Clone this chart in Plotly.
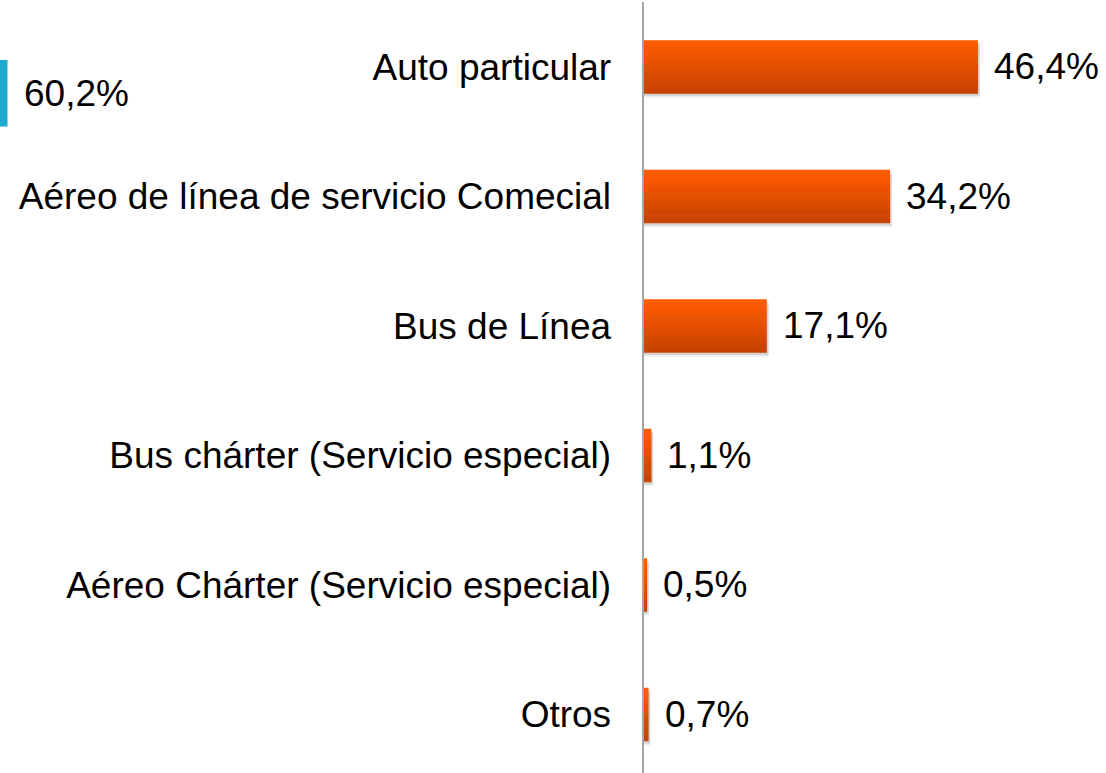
import plotly.graph_objects as go

categories = [
    "Auto particular",
    "Aéreo de línea de servicio Comecial",
    "Bus de Línea",
    "Bus chárter (Servicio especial)",
    "Aéreo Chárter (Servicio especial)",
    "Otros",
]
values = [46.4, 34.2, 17.1, 1.1, 0.5, 0.7]

# partially visible series from a neighbouring panel (cut at left edge)
side_categories = ["Auto particular"]
side_values = [60.2]


def fmt(v):
    return f"{v:.1f}".replace(".", ",") + "%"


W, H = 1106, 773
MT = 2
PLOT_H = H - MT
X0 = 643.5  # pixel of zero line
PXU = 7.21  # px per percent
CAT_PX = 129.5
BAR_W = 53 / CAT_PX

FONT = "Liberation Sans, Arial, sans-serif"
FS = 37

fig = go.Figure()

# shadow layers
for dy, alpha in [(0.035, 0.07), (0.022, 0.10)]:
    fig.add_trace(go.Bar(
        y=categories, x=[v + 0.25 for v in values], orientation="h",
        width=BAR_W, offset=-BAR_W / 2 + dy,
        marker=dict(color=f"rgba(0,0,0,{alpha})", line=dict(width=0)),
        hoverinfo="skip", showlegend=False, xaxis="x", yaxis="y",
    ))

# gradient bands
top = (255, 92, 0)
bot = (200, 66, 0)
N = 14
for i in range(N):
    t = i / (N - 1)
    c = tuple(round(top[k] + (bot[k] - top[k]) * t) for k in range(3))
    fig.add_trace(go.Bar(
        y=categories, x=values, orientation="h",
        width=BAR_W / N * 1.15, offset=-BAR_W / 2 + i * BAR_W / N,
        marker=dict(color=f"rgb{c}", line=dict(width=0)),
        hoverinfo="skip", showlegend=False, xaxis="x", yaxis="y",
    ))

# side (cut-off) series
fig.add_trace(go.Bar(
    y=side_categories, x=side_values, orientation="h", width=1,
    marker=dict(color="#20A9CE", line=dict(width=0)),
    showlegend=False, xaxis="x2", yaxis="y2",
))

annotations = []
for c, v in zip(categories, values):
    annotations.append(dict(
        x=v, y=c, xref="x", yref="y", text=fmt(v), showarrow=False,
        xanchor="left", yanchor="middle", xshift=14,
        font=dict(family=FONT, size=FS, color="#000000"),
    ))
for c, v in zip(side_categories, side_values):
    annotations.append(dict(
        x=v, y=c, xref="x2", yref="y2", text=fmt(v), showarrow=False,
        xanchor="left", yanchor="middle", xshift=14,
        font=dict(family=FONT, size=FS, color="#000000"),
    ))

y_top = -0.5
y_bot = y_top + PLOT_H / CAT_PX

side_top_px, side_bot_px = 60, 126.7

fig.update_layout(
    width=W, height=H,
    margin=dict(l=0, r=0, t=MT, b=0),
    paper_bgcolor="white", plot_bgcolor="white",
    barmode="overlay",
    showlegend=False,
    annotations=annotations,
    xaxis=dict(
        domain=[X0 / W, 1],
        range=[0, (W - X0) / PXU],
        visible=False, fixedrange=True,
    ),
    yaxis=dict(
        domain=[0, 1],
        range=[y_bot, y_top],
        type="category",
        showline=True, linecolor="#A6A6A6", linewidth=2,
        showgrid=False, zeroline=False, ticks="",
        ticklabelstandoff=23,
        tickfont=dict(family=FONT, size=FS, color="#000000"),
        anchor="x",
    ),
    xaxis2=dict(
        domain=[0, 55 / W],
        range=[60.2 - 7.5 / PXU, 60.2 + (55 - 7.5) / PXU],
        visible=False, anchor="y2", fixedrange=True,
    ),
    yaxis2=dict(
        domain=[1 - (side_bot_px - MT) / PLOT_H, 1 - (side_top_px - MT) / PLOT_H],
        range=[-0.5, 0.5], type="category",
        visible=False, anchor="x2",
    ),
)

fig.write_html(
    "out.html",
    config={"displayModeBar": False},
    post_script="document.body.style.margin='0';document.body.style.overflow='hidden';",
)
